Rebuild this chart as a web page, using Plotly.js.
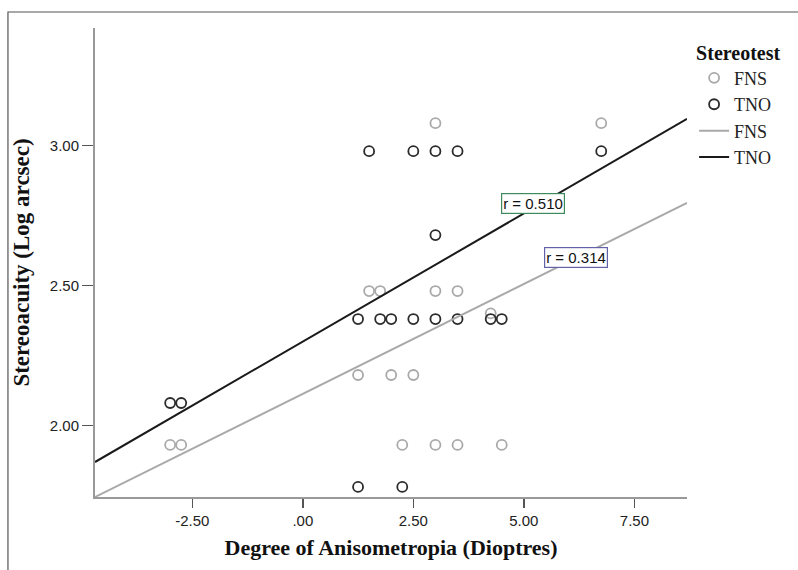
<!DOCTYPE html>
<html>
<head>
<meta charset="utf-8">
<script src="https://cdn.plot.ly/plotly-3.0.1.min.js"></script>
<style>html,body{margin:0;padding:0;background:#fff;}</style>
</head>
<body>
<div id="chart" style="width:798px;height:570px;"></div>
<script>
// FNS observations (gray)
const fnsX = [3.0, 6.75, 1.5, 1.75, 3.0, 3.5, 4.25, 1.25, 2.0, 2.5, -3.0, -2.75, 2.25, 3.0, 3.5, 4.5];
const fnsY = [3.08, 3.08, 2.48, 2.48, 2.48, 2.48, 2.40, 2.18, 2.18, 2.18, 1.93, 1.93, 1.93, 1.93, 1.93, 1.93];
// TNO observations (black)
const tnoX = [1.5, 2.5, 3.0, 3.5, 6.75, 3.0, 1.25, 1.75, 2.0, 2.5, 3.0, 3.5, 4.25, 4.5, -3.0, -2.75, 1.25, 2.25];
const tnoY = [2.98, 2.98, 2.98, 2.98, 2.98, 2.68, 2.38, 2.38, 2.38, 2.38, 2.38, 2.38, 2.38, 2.38, 2.08, 2.08, 1.78, 1.78];
// Fit lines, read at the axis ends
const fitX = [-4.70, 8.69];
const fnsFitY = [1.744, 2.795];
const tnoFitY = [1.869, 3.095];
// Axis ticks
const xTickVals = [-2.5, 0, 2.5, 5, 7.5];
const xTickText = ["-2.50", ".00", "2.50", "5.00", "7.50"];
const yTickVals = [2.0, 2.5, 3.0];
const yTickText = ["2.00", "2.50", "3.00"];
// Correlation labels
const rLabels = ["r = 0.510", "r = 0.314"];
const rX = [5.20, 6.17];
const rY = [2.794, 2.600];

const serif = "Liberation Serif, Times New Roman, serif";
const sans = "Liberation Sans, Arial, sans-serif";
const gray = "#a9a9a9", dark = "#2b2b2b";

const traces = [
  {x: fnsX, y: fnsY, type: "scatter", mode: "markers", name: "FNS",
   marker: {symbol: "circle-open", size: 10, color: gray, line: {width: 1.8, color: gray}}},
  {x: tnoX, y: tnoY, type: "scatter", mode: "markers", name: "TNO",
   marker: {symbol: "circle-open", size: 10, color: dark, line: {width: 1.8, color: dark}}},
  {x: fitX, y: fnsFitY, type: "scatter", mode: "lines", name: "FNS",
   line: {color: gray, width: 2}},
  {x: fitX, y: tnoFitY, type: "scatter", mode: "lines", name: "TNO",
   line: {color: "#1a1a1a", width: 2}}
];

const W = 591.7, H = 469.3, L = 95, T = 28;
const layout = {
  width: 798, height: 570,
  margin: {l: L, r: 798 - L - W, t: T, b: 570 - T - H},
  paper_bgcolor: "#fff", plot_bgcolor: "#fff",
  showlegend: true,
  legend: {x: 1.012, y: 0.988, xanchor: "left", yanchor: "top",
    title: {text: "<b>Stereotest</b>", font: {family: serif, size: 20, color: "#111"}},
    font: {family: serif, size: 18, color: "#222"}, tracegroupgap: 0, itemwidth: 30,
    bgcolor: "rgba(0,0,0,0)", borderwidth: 0},
  xaxis: {range: [-4.70, 8.69], tickvals: xTickVals, ticktext: xTickText,
    tickfont: {family: sans, size: 15, color: "#222"},
    showgrid: false, zeroline: false, showline: true, linecolor: "#999", linewidth: 2,
    ticks: "outside", ticklen: 9, tickwidth: 1.5, tickcolor: "#555",
    title: {text: "<b>Degree of Anisometropia (Dioptres)</b>", font: {family: serif, size: 22, color: "#111"}, standoff: 12}},
  yaxis: {range: [1.744, 3.42], tickvals: yTickVals, ticktext: yTickText,
    tickfont: {family: sans, size: 15, color: "#222"},
    showgrid: false, zeroline: false, showline: true, linecolor: "#999", linewidth: 2,
    ticks: "outside", ticklen: 11, tickwidth: 1.5, tickcolor: "#555",
    title: {text: "<b>Stereoacuity (Log arcsec)</b>", font: {family: serif, size: 23, color: "#111"}, standoff: 14}},
  annotations: [
    {x: rX[0], y: rY[0], xref: "x", yref: "y", text: rLabels[0], showarrow: false,
     font: {family: sans, size: 15, color: "#111"},
     bgcolor: "#fff", bordercolor: "#3d8a5c", borderwidth: 1.2, borderpad: 1},
    {x: rX[1], y: rY[1], xref: "x", yref: "y", text: rLabels[1], showarrow: false,
     font: {family: sans, size: 15, color: "#111"},
     bgcolor: "#fff", bordercolor: "#6262a8", borderwidth: 1.2, borderpad: 1}
  ],
  shapes: [
    {type: "rect", xref: "paper", yref: "paper",
     x0: (8 - L) / W, x1: (805 - L) / W, y0: (T + H - 580) / H, y1: (T + H - 12) / H,
     line: {color: "#555", width: 1.2}, fillcolor: "rgba(0,0,0,0)", layer: "below"}
  ]
};

Plotly.newPlot("chart", traces, layout, {displayModeBar: false, staticPlot: true});
</script>
</body>
</html>
